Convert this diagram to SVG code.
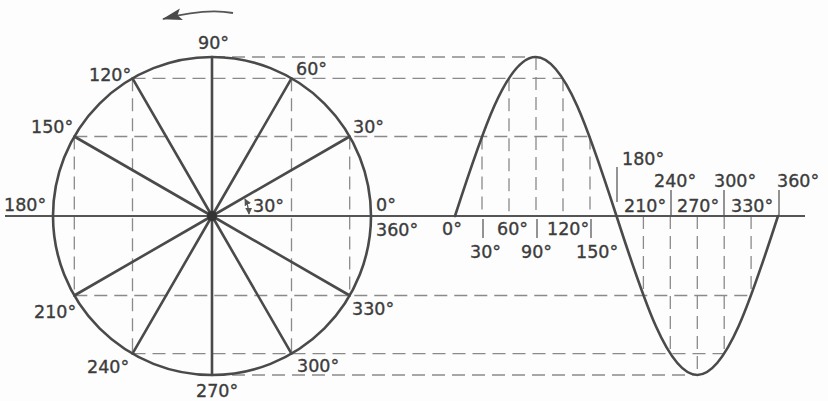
<svg xmlns="http://www.w3.org/2000/svg" width="828" height="401" viewBox="0 0 828 401">
<style>
.bg{fill:#fdfdfd}
.solid{stroke:#4a4a4a;stroke-width:2.6;fill:none;stroke-linecap:round}
.axis{stroke:#555;stroke-width:1.8;fill:none}
.dash{stroke:#8a8a8a;stroke-width:1.3;fill:none;stroke-dasharray:13 7}
.tick{stroke:#666;stroke-width:1.4;fill:none}
text{font-family:"DejaVu Sans","Liberation Sans",sans-serif;font-size:17.5px;fill:#3c3c3c;stroke:#3c3c3c;stroke-width:0.35}
</style>
<defs>
<marker id="ah" viewBox="0 0 10 10" refX="9" refY="5" markerWidth="7" markerHeight="7" orient="auto-start-reverse" markerUnits="userSpaceOnUse">
<path d="M0,0 L10,5 L0,10 z" fill="#555"/>
</marker>
<marker id="big" viewBox="0 0 20 12" refX="19" refY="6" markerWidth="20" markerHeight="12" orient="auto" markerUnits="userSpaceOnUse">
<path d="M0,0 L20,6 L0,12 L4,6 z" fill="#4a4a4a"/>
</marker>
</defs>
<rect class="bg" x="0" y="0" width="828" height="401"/>

<g id="projections">
<path class="dash" d="M212,57 H536 M132.5,78.3 H563 M74.3,136.5 H590 M74.3,295.5 H751 M132.5,353.7 H724 M212,375 H697"/>
<path class="dash" d="M74.3,136.5 V295.5 M132.5,78.3 V353.7 M291.5,78.3 V353.7 M349.7,136.5 V295.5"/>
<path class="dash" d="M482,136.5 V216 M509,78.3 V216 M536,57 V216 M563,78.3 V216 M590,136.5 V216"/>
<path class="dash" d="M643.4,216 V295.5 M670.3,216 V353.7 M697.3,216 V375 M724.2,216 V353.7 M751.1,216 V295.5"/>
</g>

<g id="ticks">
<path class="tick" d="M483,219 V238 M537,219 V238 M591,219 V238 M617,167 V202 M671,190 V216 M724,190 V216 M779,190 V216"/>
</g>

<g id="axis">
<line class="axis" x1="5" y1="216" x2="805" y2="216"/>
</g>

<g id="circle">
<circle class="solid" cx="212" cy="216" r="159"/>
<path class="solid" d="M212,216 L349.7,136.5 M212,216 L291.5,78.3 M212,216 L212,57 M212,216 L132.5,78.3 M212,216 L74.3,136.5 M212,216 L74.3,295.5 M212,216 L132.5,353.7 M212,216 L212,375 M212,216 L291.5,353.7 M212,216 L349.7,295.5"/>
<circle cx="212" cy="216" r="5" fill="#333"/>
<path d="M249,214 A37,37 0 0 0 245,199" stroke="#555" stroke-width="1.3" fill="none" marker-start="url(#ah)" marker-end="url(#ah)"/>
</g>

<g id="rotation-arrow">
<path d="M233,13 Q205,8 163,19" stroke="#555" stroke-width="1.8" fill="none" marker-end="url(#big)"/>
</g>

<g id="sine">
<path class="solid" d="M455,216 C481.33,134.55 506.53,57 535.75,57 C564.97,57 590.17,134.55 616.5,216 C642.83,297.45 668.03,375 697.25,375 C726.47,375 751.67,297.45 778,216"/>
</g>

<g id="circle-labels">
<text x="198" y="49">90°</text>
<text x="89" y="81">120°</text>
<text x="296" y="75">60°</text>
<text x="31" y="133">150°</text>
<text x="353" y="133">30°</text>
<text x="4" y="211">180°</text>
<text x="376" y="211">0°</text>
<text x="376" y="236">360°</text>
<text x="253" y="212">30°</text>
<text x="34" y="318">210°</text>
<text x="352" y="315">330°</text>
<text x="87" y="373">240°</text>
<text x="297" y="372">300°</text>
<text x="196" y="397">270°</text>
</g>

<g id="sine-labels">
<text x="442" y="235">0°</text>
<text x="497" y="235">60°</text>
<text x="547" y="235">120°</text>
<text x="470" y="258">30°</text>
<text x="521" y="258">90°</text>
<text x="576" y="258">150°</text>
<text x="622" y="165">180°</text>
<text x="654" y="187">240°</text>
<text x="714" y="187">300°</text>
<text x="777" y="187">360°</text>
<text x="624" y="212">210°</text>
<text x="677" y="212">270°</text>
<text x="731" y="212">330°</text>
</g>
</svg>
